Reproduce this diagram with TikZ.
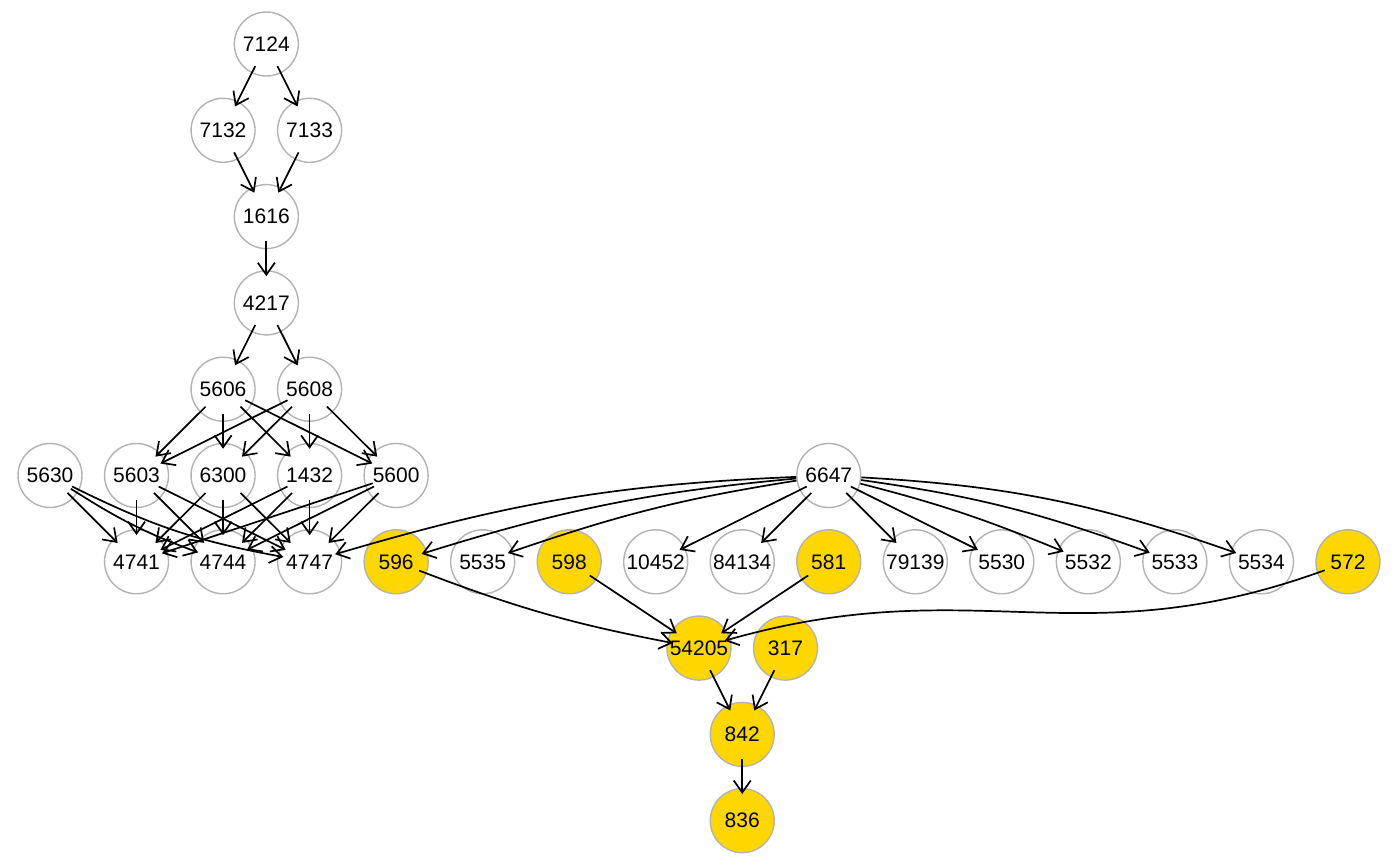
\documentclass[tikz,border=0pt]{standalone}
\usepackage{fontspec}
\setmainfont{Liberation Sans}
\usetikzlibrary{arrows.meta}
\definecolor{ringgray}{HTML}{B3B3B3}
\definecolor{hitgold}{HTML}{FFD700}
\tikzset{
  gene/.style = {circle,draw=ringgray,line width=0.7pt,fill=white,
                 minimum size=32pt,inner sep=0pt,
                 font=\fontsize{10.5}{12}\selectfont},
  hit/.style  = {gene,fill=hitgold},
  link/.style = {-{Straight Barb[length=6pt,width=8.5pt]},line width=0.85pt,
                 shorten <=-4pt,shorten >=-3pt},
}

\begin{document}
\begin{tikzpicture}[x=43.265pt,y=-43.15pt]
  \useasboundingbox (-0.578,-0.51) rectangle (15.602,9.525);

  % left hierarchy
  \node[gene] (n7124) at (2.5,0) {7124};
  \node[gene] (n7132) at (2,1) {7132};
  \node[gene] (n7133) at (3,1) {7133};
  \node[gene] (n1616) at (2.5,2) {1616};
  \node[gene] (n4217) at (2.5,3) {4217};
  \node[gene] (n5606) at (2,4) {5606};
  \node[gene] (n5608) at (3,4) {5608};
  \foreach \id/\c in {5630/0,5603/1,6300/2,1432/3,5600/4,6647/9}
     \node[gene] (n\id) at (\c,5) {\id};
  \foreach \id/\c in {4741/1,4744/2,4747/3,5535/5,10452/7,84134/8,
                      79139/10,5530/11,5532/12,5533/13,5534/14}
     \node[gene] (n\id) at (\c,6) {\id};

  % highlighted genes
  \foreach \id/\c in {596/4,598/6,581/9,572/15}
     \node[hit] (n\id) at (\c,6) {\id};
  \node[hit] (n54205) at (7.5,7) {54205};
  \node[hit] (n317) at (8.5,7) {317};
  \node[hit] (n842) at (8,8) {842};
  \node[hit] (n836) at (8,9) {836};

  \foreach \a/\b in {7124/7132,7124/7133,7132/1616,7133/1616,1616/4217,
                     4217/5606,4217/5608,5606/5603,5606/6300,5606/1432,5606/5600,
                     5608/5603,5608/6300,5608/1432,5608/5600,
                     5630/4741,5603/4741,5603/4744,5603/4747,
                     6300/4741,6300/4744,6300/4747,1432/4741,1432/4744,1432/4747,
                     5600/4741,5600/4744,5600/4747}
     \draw[link] (n\a) -- (n\b);
  \draw[link] (n5630) to[bend right=6] (n4744);
  \draw[link] (n5630) to[bend right=8] (n4747);

  % 6647 fan-out
  \foreach \b/\t in {4747/7,596/6,5535/5}
     \draw[link,shorten <=0pt] (n6647) to[bend right=\t] (n\b);
  \foreach \b in {10452,84134,79139,5530}
     \draw[link] (n6647) -- (n\b);
  \foreach \b/\t in {5532/4,5533/6,5534/8}
     \draw[link,shorten <=0pt] (n6647) to[bend left=\t] (n\b);

  % highlighted path
  \draw[link] (n596) to[bend right=5] (n54205);
  \draw[link] (n598) -- (n54205);
  \draw[link] (n581) -- (n54205);
  \draw[link] (n572) to[out=200,in=16,looseness=1.1] (n54205);
  \foreach \a/\b in {54205/842,317/842,842/836}
     \draw[link] (n\a) -- (n\b);
\end{tikzpicture}
\end{document}
